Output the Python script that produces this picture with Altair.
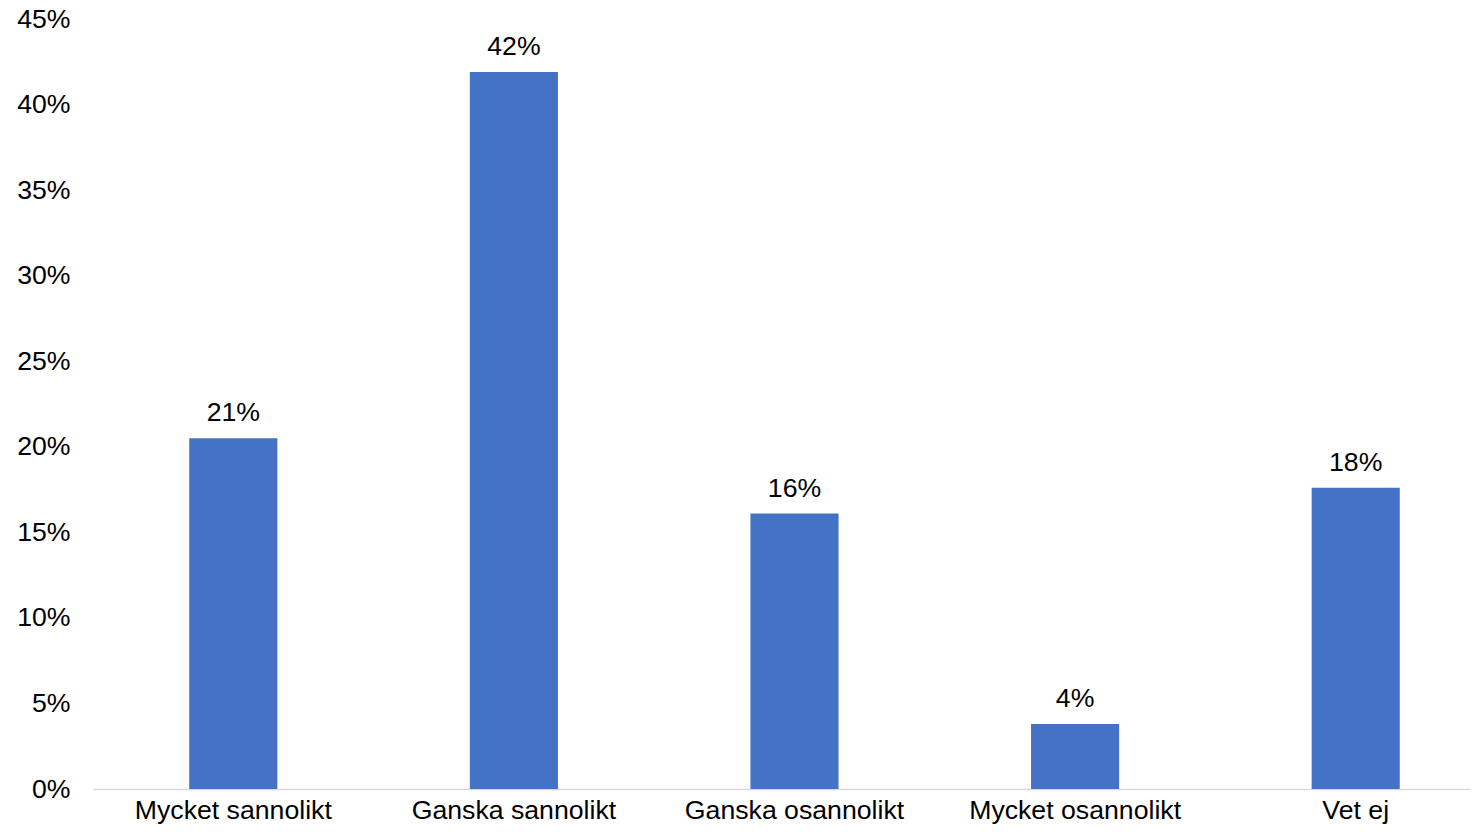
import altair as alt
import pandas as pd

categories = ["Mycket sannolikt", "Ganska sannolikt", "Ganska osannolikt", "Mycket osannolikt", "Vet ej"]
values = [0.205, 0.419, 0.161, 0.038, 0.176]
labels = ["21%", "42%", "16%", "4%", "18%"]

df = pd.DataFrame({"cat": categories, "val": values, "lab": labels})

FONT = "Liberation Sans"
FS = 26.67

x = alt.X("cat:N", sort=categories, title=None,
          scale=alt.Scale(range=[0, 1403], paddingInner=0.686, paddingOuter=0.343),
          axis=alt.Axis(labelAngle=0, labelFont=FONT, labelFontSize=FS, labelColor="#000000",
                        labelPadding=8, ticks=False, domainColor="#d9d9d9", domainWidth=1.5,
                        labelLimit=400))
y = alt.Y("val:Q", title=None,
          scale=alt.Scale(domain=[0, 0.45], nice=False),
          axis=alt.Axis(format=".0%", values=[i * 0.05 for i in range(10)], grid=False,
                        domain=False, ticks=False, labelFont=FONT, labelFontSize=FS,
                        labelColor="#000000", labelPadding=23))

bars = alt.Chart(df).mark_bar(color="#4472C4").encode(x=x, y=y)
text = alt.Chart(df).mark_text(font=FONT, fontSize=FS, color="#000000", baseline="alphabetic",
                                dy=-17).encode(x=alt.X("cat:N", sort=categories), y="val:Q", text="lab:N")

chart = (bars + text).properties(
    width=1377, height=770,
    autosize=alt.AutoSizeParams(type="none"),
    padding={"left": 85, "top": 11, "right": 0, "bottom": 38},
).configure_view(stroke=None)

chart.save("out.html", embed_options={"renderer": "svg", "actions": False})
